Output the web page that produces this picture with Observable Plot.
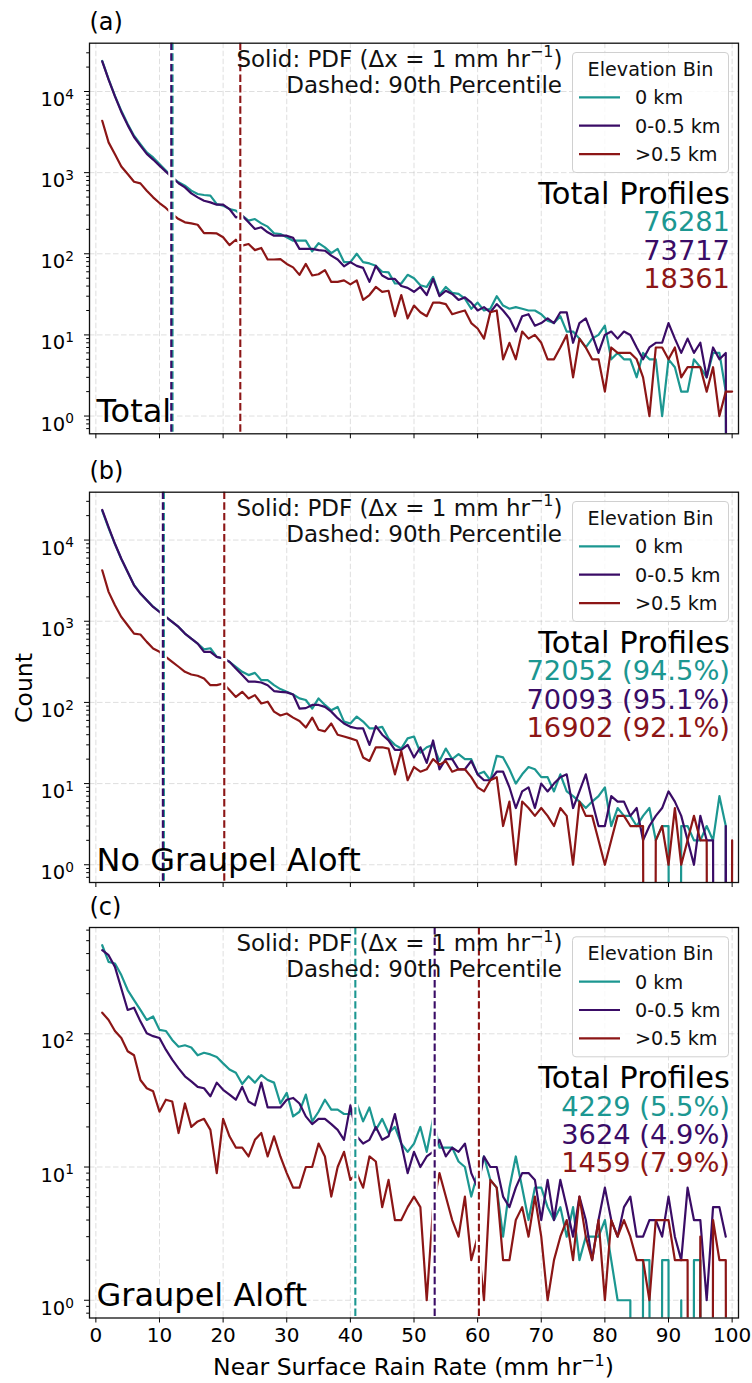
<!DOCTYPE html>
<html><head><meta charset="utf-8">
<script src="https://cdn.jsdelivr.net/npm/d3@7"></script>
<script src="https://cdn.jsdelivr.net/npm/@observablehq/plot@0.6"></script>
<style>
body{margin:0;background:#fff;}
#fig{position:relative;width:752px;height:1383px;font-family:"DejaVu Sans",sans-serif;background:#fff;}
#fig svg{position:absolute;left:0;overflow:visible;}
</style></head><body><div id="fig"></div>
<script>
// ---------- data ----------
const rainRate = d3.range(1, 101); // bin centres, mm/hr
const seriesNames = ["0 km", "0-0.5 km", ">0.5 km"];
const seriesColors = ["#1c9791", "#3a0c66", "#8c1616"];
const xTicks = [0, 10, 20, 30, 40, 50, 60, 70, 80, 90, 100];

// (a) Total
const teal_a = [23800,14200,8850,5780,3970,2850,2250,1780,1540,1280,
 1060,875,760,690,600,545,530,520,410,392,
 356,340,295,256,268,237,216,179,175,160,
 145,145,145,107,135,120,102,115,79,79,
 100,79,76,71,60,59,43,43,55,50,
 41,39,52,31,39,33,32,28,21,25,
 20,21,30,23,21,22,21,20,20,18,
 15,14,17,11,11,9,7,9,10,13,
 5,6,5,5,3,6,5,5,1,5,
 4,2,2,5,4,3,6,6,2,0];
const purple_a = [23500,14000,8700,5600,3850,2750,2150,1700,1450,1220,
 1030,870,740,658,556,496,451,430,403,403,
 356,281,295,244,202,212,184,167,167,167,
 157,115,115,115,111,109,95,85,70,79,
 71,67,45,71,54,49,49,40,38,34,
 39,31,49,30,35,32,27,29,25,20,
 22,19,24,20,16,11,17,18,13,14,
 16,14,19,19,8,14,16,10,6,10,
 11,9,11,10,7,5,7,8,8,14,
 9,6,9,6,8,3,7,5,6,0];
const red_a = [4360,2360,1690,1190,960,773,738,599,496,422,
 367,309,268,244,237,228,180,180,178,160,
 128,149,126,132,111,118,85,85,86,75,
 68,55,75,54,56,63,45,45,47,42,
 47,27,31,39,34,35,17,31,16,23,
 19,17,25,25,24,18,19,20,14,12,
 9,19,20,5,8,5,11,9,10,8,
 5,5,7,10,3,9,7,5,5,2,
 7,6,6,6,5,3,1,7,7,5,
 7,3,4,4,4,2,4,1,2,2];
const p90_a = [12.05, 11.85, 22.7];
const totals_a = ["76281", "73717", "18361"];

// (b) No Graupel Aloft
const teal_b = [23000,14000,8900,5850,4050,2800,2200,1820,1510,1310,
 1130,980,851,705,612,531,450,465,364,347,
 316,275,238,217,231,188,188,163,146,135,
 125,112,107,84,112,93,80,88,58,55,
 67,58,48,48,50,36,30,27,36,38,
 24,28,30,19,27,20,23,20,20,13,
 14,11,22,21,15,10,13,16,15,12,
 12,8,13,8,7,6,5,6,7,9,
 3,5,4,4,3,4,5,2,3,3,
 0,3,3,2,2,3,2,7,3,0];
const purple_b = [23500,14400,9000,5890,4040,2770,2190,1810,1500,1300,
 1130,980,851,705,612,531,420,420,364,347,
 316,262,217,180,180,176,163,138,135,133,
 125,84,85,93,93,88,77,64,55,50,
 48,48,30,51,40,34,26,26,30,21,
 28,18,34,15,20,20,15,15,19,13,
 11,11,14,14,9,5,8,9,5,10,
 8,10,12,13,5,8,13,6,3,3,
 7,6,6,4,5,2,3,4,5,8,
 6,4,2,1,4,2,2,0,3,0];
const red_b = [4240,2300,1570,1130,893,705,686,557,461,420,
 364,316,275,238,221,213,197,163,163,171,
 142,117,135,112,123,97,102,77,69,73,
 65,59,49,65,46,44,55,40,38,36,
 34,21,19,28,28,27,13,25,11,16,
 14,15,20,17,19,14,15,15,12,9,
 8,11,12,3,6,1,6,5,4,5,
 4,3,5,4,1,6,4,4,2,1,
 2,4,4,3,3,3,0,2,3,1,
 5,1,2,4,2,2,0,0,0,2];
const p90_b = [10.69, 10.53, 20.18];
const totals_b = ["72052 (94.5%)", "70093 (95.1%)", "16902 (92.1%)"];

// (c) Graupel Aloft
const teal_c = [462,347,337,276,213,179,151,127,135,107,
 105,90,80,82,79,69,72,70,67,60,
 54,51,42,48,43,49,45,43,30,36,
 24,26,35,22,26,32,27,27,25,25,
 30,22,28,19,23,18,20,15,13,15,
 20,13,23,14,14,14,11,10,6,9,
 12,8,7,3,7,12,7,4,7,7,
 5,4,5,3,5,2,3,3,3,4,
 2,1,1,1,0,2,2,0,2,2,
 0,1,0,2,2,0,0,0,0,0];
const purple_c = [424,389,318,219,151,157,124,101,96,93,
 76,64,55,48,44,40,39,34,43,38,
 35,32,40,31,29,43,28,28,28,32,
 33,30,24,21,23,23,21,19,16,29,
 17,15,16,20,16,17,25,15,9,13,
 10,12,13,16,12,14,13,15,9,7,
 12,10,10,6,5,7,9,9,8,4,
 8,4,8,5,3,6,4,2,4,7,
 4,3,5,6,3,3,4,4,3,6,
 3,2,7,4,4,1,5,5,3,null];
const red_c = [144,127,105,93,74,69,45,39,37,26,
 32,31,18,30,20,22,23,19,9,23,
 17,14,14,12,16,18,12,17,12,9,
 7,7,10,10,15,12,6,10,13,8,
 9,7,12,11,5,8,4,4,5,6,
 5,1,5,9,6,4,3,6,2,3,
 1,8,7,2,2,4,5,3,6,3,
 1,2,3,4,2,6,3,2,4,1,
 4,3,4,3,2,2,1,4,4,4,
 2,2,2,0,3,0,4,2,2,0];
const p90_c = [40.78, 53.25, 60.2];
const totals_c = ["4229 (5.5%)", "3624 (4.9%)", "1459 (7.9%)"];

// ---------- drawing ----------
const fig = document.getElementById("fig");
const FONT = "DejaVu Sans";

function panel({series, p90, totals, corner, letter, T, H, top, bottom, showX}) {
  const rows = [];
  series.forEach((vals, si) => vals.forEach((v, i) => rows.push({x: rainRate[i], y: v, s: seriesNames[si]})));
  const pos = series.flat().filter(v => v > 0);
  const lmin = Math.log10(d3.min(pos)), lmax = Math.log10(d3.max(pos));
  const pad = 0.05 * (lmax - lmin);
  const lo = 10 ** (lmin - pad), hi = 10 ** (lmax + pad);
  const majors = [], minors = [];
  for (let k = Math.floor(lmin - pad); k <= Math.ceil(lmax + pad); k++) {
    if (10 ** k >= lo && 10 ** k <= hi) majors.push(10 ** k);
    for (let m = 2; m <= 9; m++) { const v = m * 10 ** k; if (v >= lo && v <= hi) minors.push(v); }
  }
  const fmt = d => "10^" + Math.round(Math.log10(d));
  const pct = p90.map((v, i) => ({v, s: seriesNames[i]}));
  const mt = top - T, mb = T + H - bottom;
  const gridStyle = {stroke: "#b0b0b0", strokeOpacity: 0.4, strokeDasharray: "5.5,2.5", strokeWidth: 1};

  const svg = Plot.plot({
    width: 752, height: H,
    marginLeft: 89, marginRight: 14, marginTop: mt, marginBottom: mb,
    style: {fontFamily: FONT, fontSize: "20px", background: "transparent", color: "#000", overflow: "visible"},
    x: {domain: [-1, 101]},
    y: {type: "log", domain: [lo, hi]},
    color: {domain: seriesNames, range: seriesColors},
    marks: [
      Plot.gridX(xTicks, gridStyle),
      Plot.gridY(majors, gridStyle),
      Plot.line(rows, {x: "x", y: d => (d.y === 0 ? 1e-30 : d.y), z: "s", stroke: "s", strokeWidth: 2.2, clip: true}),
      Plot.ruleX(pct, {x: "v", stroke: "white", strokeWidth: 6}),
      Plot.ruleX(pct, {x: "v", stroke: "s", strokeWidth: 2.1, strokeDasharray: "7.4,3.2"}),
      Plot.axisX(xTicks, {tickSize: 5, tickPadding: 5, tickFormat: showX ? (d => String(d)) : (() => ""), label: null, fontSize: 20}),
      Plot.axisY(minors, {tickSize: 2.8, tickFormat: () => "", label: null}),
      Plot.axisY(majors, {tickSize: 5, tickPadding: 10.5, tickFormat: fmt, label: null, fontSize: 19.5}),
      Plot.frame({stroke: "#111", strokeWidth: 1.3})
    ]
  });
  svg.style.top = T + "px";

  // render y tick labels as 10 with a raised exponent (like mathtext)
  d3.select(svg).selectAll("text").each(function () {
    const s = this.textContent;
    if (/^10\^-?\d+$/.test(s)) {
      const e = s.split("^")[1];
      const t = d3.select(this);
      t.text("").attr("dy", "8.3");
      t.append("tspan").text("10");
      t.append("tspan").attr("font-size", 13.7).attr("dy", -7.3).text(e.replace("-", "−"));
    }
  });

  const g = d3.select(svg).append("g").attr("font-family", FONT).attr("text-anchor", "start");

  // header text
  const t1 = g.append("text").attr("x", 562.5).attr("y", mt + 24).attr("text-anchor", "end").attr("font-size", 23).attr("fill", "#111");
  t1.append("tspan").text("Solid: PDF (Δx = 1 mm hr");
  t1.append("tspan").attr("font-size", 16).attr("dy", -9.5).text("−1");
  t1.append("tspan").attr("font-size", 23).attr("dy", 9.5).text(")");
  g.append("text").attr("x", 562).attr("y", mt + 50).attr("text-anchor", "end").attr("font-size", 23).attr("fill", "#111").text("Dashed: 90th Percentile");

  // legend
  g.append("rect").attr("x", 572.5).attr("y", mt + 9.8).attr("width", 156).attr("height", 120).attr("rx", 3.5)
    .attr("fill", "white").attr("fill-opacity", 0.8).attr("stroke", "#d0d0d0").attr("stroke-width", 1);
  g.append("text").attr("x", 650.5).attr("y", mt + 33.3).attr("text-anchor", "middle").attr("font-size", 19.2).attr("fill", "#111").text("Elevation Bin");
  seriesNames.forEach((name, i) => {
    g.append("line").attr("x1", 579).attr("x2", 620).attr("y1", mt + 54.6 + 28.4 * i).attr("y2", mt + 54.6 + 28.4 * i)
      .attr("stroke", seriesColors[i]).attr("stroke-width", 2.2);
    g.append("text").attr("x", 635).attr("y", mt + 61.6 + 28.4 * i).attr("text-anchor", "start").attr("font-size", 19.2).attr("fill", "#111").text(name);
  });

  // total profiles
  g.append("text").attr("x", 730).attr("y", mt + 161).attr("text-anchor", "end").attr("font-size", 30.5).attr("fill", "#000").text("Total Profiles");
  totals.forEach((t, i) => {
    g.append("text").attr("x", 730).attr("y", mt + 188.5 + 28.3 * i).attr("text-anchor", "end").attr("font-size", 27.3).attr("fill", seriesColors[i]).text(t);
  });

  // corner & letter
  g.append("text").attr("x", 96.5).attr("y", H - mb - 11.5).attr("text-anchor", "start").attr("font-size", 32).attr("fill", "#000").text(corner);
  g.append("text").attr("x", 89.5).attr("y", mt - 12.4).attr("text-anchor", "start").attr("font-size", 24).attr("fill", "#000").text(letter);

  fig.appendChild(svg);
}

panel({series: [teal_a, purple_a, red_a], p90: p90_a, totals: totals_a, corner: "Total", letter: "(a)",
  T: 0, H: 458, top: 42.7, bottom: 433.3, showX: false});
panel({series: [teal_b, purple_b, red_b], p90: p90_b, totals: totals_b, corner: "No Graupel Aloft", letter: "(b)",
  T: 458, H: 440, top: 491.7, bottom: 882, showX: false});
panel({series: [teal_c, purple_c, red_c], p90: p90_c, totals: totals_c, corner: "Graupel Aloft", letter: "(c)",
  T: 898, H: 485, top: 927, bottom: 1317.5, showX: true});

// shared axis labels
const ov = d3.select(fig).append("svg").attr("width", 752).attr("height", 1383).style("top", "0px")
  .attr("font-family", FONT).style("pointer-events", "none");
ov.append("text").attr("transform", "translate(31.5,688) rotate(-90)").attr("text-anchor", "middle").attr("font-size", 23.5).attr("fill", "#000").text("Count");
const xl = ov.append("text").attr("x", 413.5).attr("y", 1375).attr("text-anchor", "middle").attr("font-size", 23.5).attr("fill", "#000");
xl.append("tspan").text("Near Surface Rain Rate (mm hr");
xl.append("tspan").attr("font-size", 16).attr("dy", -9.5).text("−1");
xl.append("tspan").attr("font-size", 23.5).attr("dy", 9.5).text(")");
</script></body></html>
